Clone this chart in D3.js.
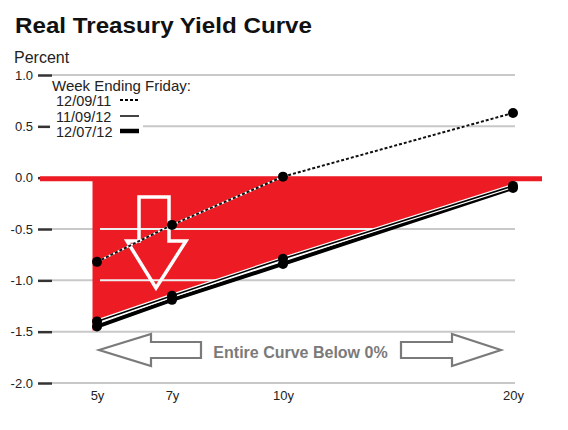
<!DOCTYPE html>
<html><head><meta charset="utf-8">
<script src="https://cdn.jsdelivr.net/npm/d3@7"></script>
<style>
html,body{margin:0;padding:0;background:#fff;}
svg{display:block;font-family:"Liberation Sans",Arial,sans-serif;}
</style></head>
<body>
<svg id="chart" width="568" height="430"></svg>
<script>
// ---- data ----
const maturities = [5, 7, 10, 20];
const maturityLabels = ["5y", "7y", "10y", "20y"];
const series1Name = "12/09/11";
const series1 = [-0.82, -0.46, 0.01, 0.63];
const series2Name = "11/09/12";
const series2 = [-1.40, -1.15, -0.79, -0.08];
const series3Name = "12/07/12";
const series3 = [-1.45, -1.19, -0.84, -0.10];
const yTicks = [1.0, 0.5, 0.0, -0.5, -1.0, -1.5, -2.0];

(function () {
const svg = d3.select("#chart");
const plotLeft = 52, plotRight = 515, plotTop = 75, plotBottom = 383;

const x = d3.scaleLinear().domain(maturities).range([97, 172, 283, 513]);
const y = d3.scaleLinear().domain([-2, 1]).range([plotBottom, plotTop]);

// title
svg.append("text").attr("x", 15).attr("y", 33)
  .attr("font-size", 22).attr("font-weight", "bold").attr("fill", "#111")
  .attr("textLength", 297).attr("lengthAdjust", "spacingAndGlyphs")
  .text("Real Treasury Yield Curve");
svg.append("text").attr("x", 14).attr("y", 63)
  .attr("font-size", 16).attr("fill", "#222").text("Percent");

// grid
svg.append("g").selectAll("line").data(yTicks).join("line")
  .attr("x1", plotLeft).attr("x2", plotRight)
  .attr("y1", d => y(d)).attr("y2", d => y(d))
  .attr("stroke", "#c8c8c8").attr("stroke-width", 2);

// y axis
const yAxis = svg.append("g").attr("transform", `translate(${plotLeft},0)`)
  .call(d3.axisLeft(y).tickValues(yTicks).tickSize(14).tickPadding(5)
    .tickFormat(d => d.toFixed(1)));
yAxis.select(".domain").remove();
yAxis.selectAll(".tick line").attr("stroke", "#333").attr("stroke-width", 2.5);
yAxis.selectAll(".tick text").attr("font-size", 13).attr("fill", "#222")
  .attr("font-family", "Liberation Sans, Arial, sans-serif");

// x axis
const xAxis = svg.append("g").attr("transform", `translate(0,${plotBottom})`)
  .call(d3.axisBottom(x).tickValues(maturities).tickSize(0).tickPadding(8)
    .tickFormat((d, i) => maturityLabels[i]));
xAxis.select(".domain").remove();
xAxis.selectAll(".tick text").attr("font-size", 13).attr("fill", "#222")
  .attr("font-family", "Liberation Sans, Arial, sans-serif");

// red area between zero and the latest curve
const areaData = maturities.map((m, i) => ({m, v: series2[i]}));
const area = d3.area().x(d => x(d.m)).y0(y(0)).y1(d => y(d.v));
const red = "#ed1c24";
svg.append("clipPath").attr("id", "areaClip")
  .append("path").attr("d", area(areaData));
svg.append("path").attr("d", area(areaData)).attr("fill", red);
svg.append("line")
  .attr("x1", x(5) - 2).attr("x2", x(5) - 2)
  .attr("y1", y(0)).attr("y2", y(series3[0]) + 4)
  .attr("stroke", red).attr("stroke-width", 5);
// white grid lines inside area
svg.append("g").attr("clip-path", "url(#areaClip)")
  .selectAll("line").data(yTicks.filter(d => d < 0)).join("line")
  .attr("x1", x(5) + 3).attr("x2", plotRight)
  .attr("y1", d => y(d)).attr("y2", d => y(d))
  .attr("stroke", "#eeeeee").attr("stroke-width", 2);
// zero line
svg.append("line").attr("x1", 40).attr("x2", 542)
  .attr("y1", y(0) + 1).attr("y2", y(0) + 1)
  .attr("stroke", red).attr("stroke-width", 5);

// big white down arrow
const bigArrow = [[139,197],[169,197],[169,241],[186,241],[156,288],[127,241],[139,241]];
svg.append("path").attr("d", d3.line()(bigArrow) + "Z")
  .attr("fill", "none").attr("stroke", "#fff").attr("stroke-width", 3.5)
  .attr("stroke-linejoin", "miter");

// lines
const line = d3.line().x(d => x(d.m)).y(d => y(d.v));
const d1 = maturities.map((m, i) => ({m, v: series1[i]}));
const d2 = maturities.map((m, i) => ({m, v: series2[i]}));
const d3d = maturities.map((m, i) => ({m, v: series3[i]}));

svg.append("path").attr("d", line(d3d)).attr("fill", "none")
  .attr("stroke", "#000").attr("stroke-width", 4);
svg.append("path").attr("d", line(d2)).attr("fill", "none")
  .attr("stroke", "#fff").attr("stroke-width", 4);
svg.append("path").attr("d", line(d2)).attr("fill", "none")
  .attr("stroke", "#000").attr("stroke-width", 1.6);
svg.append("path").attr("d", line(d1)).attr("fill", "none")
  .attr("stroke", "#fff").attr("stroke-width", 2);
svg.append("path").attr("d", line(d1)).attr("fill", "none")
  .attr("stroke", "#111").attr("stroke-width", 2).attr("stroke-dasharray", "3,2");

// dots
[d1, d2, d3d].forEach(ds => {
  svg.append("g").selectAll("circle").data(ds).join("circle")
    .attr("cx", d => x(d.m)).attr("cy", d => y(d.v)).attr("r", 5).attr("fill", "#000");
});

// legend
svg.append("rect").attr("x", 50).attr("y", 78).attr("width", 93).attr("height", 62).attr("fill", "#fff");
svg.append("text").attr("x", 52).attr("y", 91).attr("font-size", 15).attr("fill", "#222")
  .text("Week Ending Friday:");
const legendItems = [
  {name: series1Name, w: 2, dash: "3,2"},
  {name: series2Name, w: 2, dash: null},
  {name: series3Name, w: 4.5, dash: null}
];
const lg = svg.append("g").selectAll("g").data(legendItems).join("g")
  .attr("transform", (d, i) => `translate(0,${[106, 122, 137][i]})`);
lg.append("text").attr("x", 56).attr("y", 0).attr("font-size", 14.5).attr("fill", "#222")
  .text(d => d.name);
lg.append("line").attr("x1", 120).attr("x2", 139).attr("y1", -6).attr("y2", -6)
  .attr("stroke", d => d.name === series2Name ? "#444" : "#000")
  .attr("stroke-width", d => d.w).attr("stroke-dasharray", d => d.dash);

// bottom annotation
const grey = "#7a7a7a";
const leftArrow = [[99,350],[151,334],[151,342],[201,342],[201,358],[151,358],[151,366]];
const rightArrow = [[501,350],[452,334],[452,342],[401,342],[401,358],[452,358],[452,366]];
[leftArrow, rightArrow].forEach(p => {
  svg.append("path").attr("d", d3.line()(p) + "Z").attr("fill", "none")
    .attr("stroke", grey).attr("stroke-width", 2.2);
});
svg.append("text").attr("x", 300.5).attr("y", 358).attr("text-anchor", "middle")
  .attr("font-size", 16).attr("font-weight", "bold").attr("fill", grey)
  .text("Entire Curve Below 0%");
})();
</script>
</body></html>
